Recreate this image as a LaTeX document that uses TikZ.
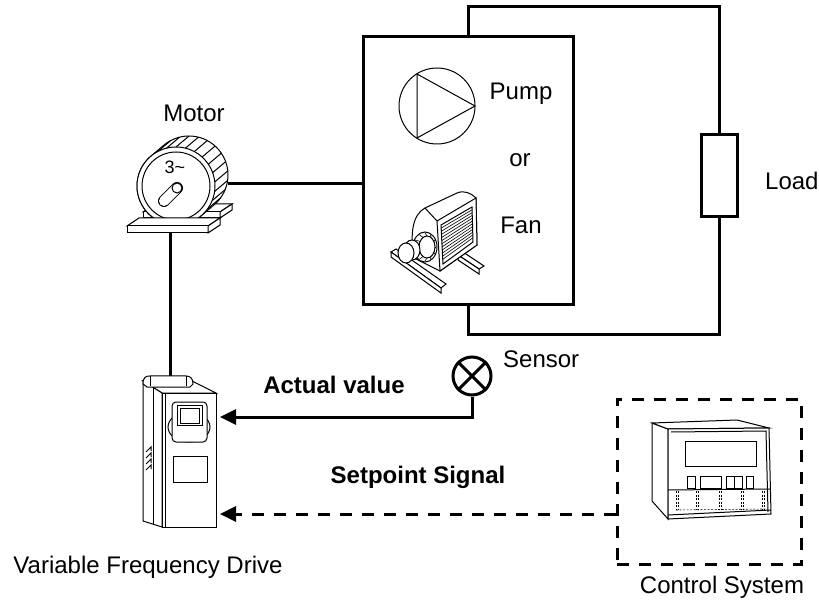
\documentclass[tikz,border=0pt]{standalone}
\usepackage{fontspec}
\setmainfont{Liberation Sans}
\usetikzlibrary{arrows.meta,calc}
\begin{document}
\begin{tikzpicture}[x=1pt,y=-1pt,
  wire/.style={line width=3pt},
  thin/.style={line width=1pt},
  hair/.style={line width=0.6pt},
  sig/.style={line width=3pt,-{Triangle[length=16pt,width=15pt]}},
  dashline/.style={dash pattern=on 12pt off 10pt},
  lbl/.style={font=\fontsize{24}{28}\selectfont, inner sep=0pt, anchor=base},
  blbl/.style={font=\fontsize{24}{28}\selectfont\bfseries, inner sep=0pt, anchor=base},
  tdash/.style={line width=0.6pt, dash pattern=on 2pt off 1.5pt}]
\useasboundingbox (0,0) rectangle (819,601);

% ---------------- main nodes ----------------
\node[draw, wire, minimum width=210pt, minimum height=268pt, inner sep=0pt] (pf) at (468,171) {};
\node[draw, wire, minimum width=36pt, minimum height=82pt, inner sep=0pt] (load) at (719,176) {};
\node[draw, wire, circle, minimum size=38pt, inner sep=0pt] (sensor) at (472,376) {};
\draw[wire] (sensor.north west) -- (sensor.south east) (sensor.north east) -- (sensor.south west);
\node[draw, wire, dashline, minimum width=184pt, minimum height=165pt, inner sep=0pt] (cs) at (709,481.5) {};
\node[inner sep=0pt, minimum width=54pt, minimum height=134pt] (vfd) at (189,460) {};

\coordinate (mshaft) at (228,184);
\coordinate (mbase) at (170,233);
\coordinate (vtop) at (170,377);
\coordinate (actin) at (220,417);
\coordinate (setin) at (220,514);

% ---------------- wires ----------------
\draw[wire] (pf.north) -- ++(0,-29) -| (load.north);
\draw[wire] (pf.south) -- ++(0,28) -| (load.south);
\draw[wire] (mshaft) -- (mshaft -| pf.west);
\draw[wire] (mbase) -- (vtop);
\draw[sig] (sensor.south) |- (actin);
\draw[sig, dashline] (cs.west |- setin) -- (setin);

% ---------------- labels ----------------
\node[lbl] (tmotor) at (194,122) {Motor};
\node[lbl] (tpump) at (521,100) {Pump};
\node[lbl] (tor) at (520,167) {or};
\node[lbl] (tfan) at (521,234) {Fan};
\node[lbl, anchor=base west] (tload) at (765,190) {Load};
\node[lbl, anchor=base west] (tsensor) at (503,368) {Sensor};
\node[blbl] (tact) at (334,393) {Actual value};
\node[blbl] (tset) at (418,483) {Setpoint Signal};
\node[lbl] (tvfd) at (148,573) {Variable Frequency Drive};
\node[lbl] (tcs) at (722,593) {Control System};

% ---------------- motor ----------------
\coordinate (mf) at (176,186);
\coordinate (mb) at (189,175);
\draw[thin, fill=white] (143,212) -- (220,212) -- (232,204) -- (155,204) -- cycle;
\draw[thin, fill=white] (143,212) -- (220,212) -- (220,218) -- (143,218) -- cycle;
\draw[thin, fill=white] (220,212) -- (232,204) -- (232,210) -- (220,218) -- cycle;
\draw[thin, fill=white] ($(mf)+(50:39)$) arc[start angle=50, end angle=230, radius=39]
   -- ($(mb)+(230:39)$) arc[start angle=230, end angle=410, radius=39] -- cycle;
\foreach \a in {242,256,...,404} \draw[thin] ($(mf)+(\a:39)$) -- ($(mb)+(\a:39)$);
\draw[thin, fill=white] (mf) circle (39);
\draw[thin] (mf) circle (34);
\node[font=\fontsize{18}{20}\selectfont, inner sep=0pt, anchor=base] (t3) at (175,174) {3\char"007E};
\draw[line width=12pt, line cap=round] (164,201) -- (177,188);
\draw[white, line width=10pt, line cap=round] (164,201) -- (177,188);
\draw[thin] (177,188) circle (5);
\draw[thin, fill=white] (127,226) -- (208,226) -- (220,218) -- (139,218) -- cycle;
\draw[thin, fill=white] (127,226) -- (208,226) -- (208,233) -- (127,233) -- cycle;
\draw[thin, fill=white] (208,226) -- (220,218) -- (220,225) -- (208,233) -- cycle;

% ---------------- pump ----------------
\draw[thin] (437,106) circle (38);
\draw[thin] (417,74) -- (417,138) -- (475,106) -- cycle;

% ---------------- fan ----------------
\draw[thin, fill=white] (458,255) -- (463,252) -- (484,266) -- (479,269) -- cycle;
\draw[thin, fill=white] (458,255) -- (479,269) -- (479,274) -- (458,260) -- cycle;
\draw[thin, fill=white] (414,258) .. controls (410,235) and (412,215) .. (425,208) -- (457,193)
   .. controls (464,190) and (471,193) .. (476,198) -- (477,245) -- (440,271) -- cycle;
\draw[thin] (425,208) -- (437,221);
\draw[thin, fill=white] (437,221) -- (476,198) -- (477,245) -- (440,271) -- cycle;
\draw[thin] (441,225) -- (472,207) -- (473,242) -- (443,264) -- cycle;
\foreach \t in {0.08,0.16,...,0.93} \draw[hair] ($(441,225)!\t!(443,264)$) -- ($(472,207)!\t!(473,242)$);
\draw[thin, fill=white] (391,252) -- (396,249) -- (446,284) -- (441,288) -- cycle;
\draw[thin, fill=white] (391,252) -- (441,288) -- (441,293) -- (391,257) -- cycle;
\draw[thin, fill=white] (425,247) ellipse [x radius=12, y radius=15];
\draw[thin] (427,247) ellipse [x radius=8, y radius=11];
\foreach \a in {0,30,...,330} \draw[hair] ($(427,247)+(\a:8 and 11)$) -- ($(425,247)+(\a:11 and 14)$);
\draw[thin, fill=white] (412,250) ellipse [x radius=8, y radius=10];
\draw[thin, fill=white] (406,253) ellipse [x radius=8, y radius=10];

% ---------------- VFD ----------------
\draw[thin, fill=white] (143,381) -- (192,381) -- (216,393) -- (162,393) -- cycle;
\draw[thin, fill=white] (143,381) -- (162,393) -- (162,527) -- (143,521) -- cycle;
\draw[thin] (153,387) -- (153,524);
\draw[thin, fill=white] (162,393) rectangle (216,527);
\draw[thin] (165,393) -- (165,527);
\draw[thin, fill=white] (143,384) .. controls (143,377) and (146,376) .. (150,376) -- (186,376)
   .. controls (190,376) and (193,378) .. (193,384) -- (190,387) -- (147,387) -- cycle;
\draw[thin] (150,376) -- (150,386) (186,376) -- (186,386);
\draw[thin, fill=white] (189,427) ellipse [x radius=21, y radius=15];
\draw[thin, fill=white, rounded corners=4pt] (172,402) rectangle (207,442);
\draw[thin] (177,405) rectangle (202,425);
\draw[thin] (180,408) rectangle (199,423);
\draw[thin] (173,456) rectangle (207,482);
\foreach \k in {0,1,2,3} \draw[thin] (146,{452+6*\k}) -- (151,{447+6*\k}) -- (151,{451+6*\k});

% ---------------- control system device ----------------
\draw[thin, fill=white] (652,423) -- (668,429) -- (668,519) -- (652,501) -- cycle;
\draw[thin, fill=white] (652,423) -- (737,420) -- (769,428) -- (668,429) -- cycle;
\draw[thin, fill=white] (668,429) -- (769,428) -- (771,514) -- (668,519) -- cycle;
\draw[thin] (671,432) -- (766,431) -- (768,512);
\draw[thin] (668,515) -- (771,510);
\draw[thin] (685,441) rectangle (756,466);
\draw[thin] (687,476) rectangle (695,488);
\draw[thin] (700,476) rectangle (721,488);
\draw[thin] (726,476) rectangle (734,488);
\draw[thin] (734,476) rectangle (742,488);
\draw[thin] (746,476) rectangle (753,488);
\draw[thin] (668,490) -- (770,489);
\foreach \x in {676,696,719,741,762} \draw[tdash] (\x,491) -- (\x,510) (\x+2.5,491) -- (\x+2.5,510);
\draw[tdash] (676,510) -- (765,509);
\end{tikzpicture}
\end{document}
